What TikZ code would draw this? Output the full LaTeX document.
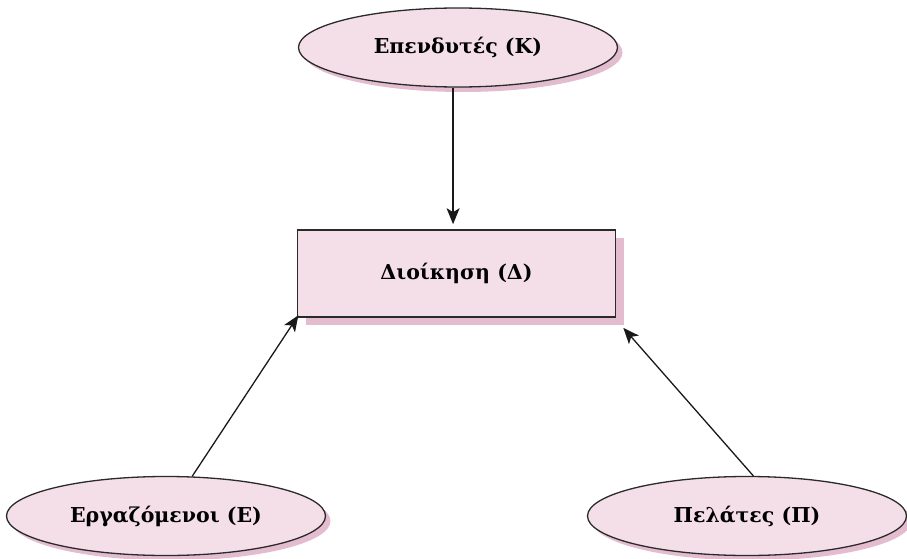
\documentclass[tikz,border=0pt]{standalone}
\usepackage{fontspec}
\setmainfont{DejaVu Serif}
\usetikzlibrary{shapes.geometric,shadows,arrows.meta,calc}
\definecolor{boxpink}{HTML}{F4DFE8}
\definecolor{shadowpink}{HTML}{E3BDCF}
\definecolor{edgegray}{HTML}{2A2A2A}
\tikzset{
  ellnode/.style={ellipse, draw=edgegray, line width=1.3pt, fill=boxpink,
    minimum width=319pt, minimum height=79pt, inner sep=0pt,
    font=\fontsize{20.5}{24}\selectfont\bfseries,
    general shadow={shadow xshift=5pt, shadow yshift=-5pt, fill=shadowpink}},
  boxnode/.style={rectangle, draw=edgegray, line width=1.6pt, fill=boxpink,
    minimum width=318pt, minimum height=87pt, inner sep=0pt,
    font=\fontsize{20.5}{24}\selectfont\bfseries,
    general shadow={shadow xshift=8pt, shadow yshift=-8pt, fill=shadowpink}},
  link/.style={line width=1.3pt, draw=black!90, -{Stealth[length=16pt,width=13pt,inset=4pt]}}
}
\begin{document}
\begin{tikzpicture}[x=1pt,y=-1pt]
\useasboundingbox (0,0) rectangle (907,559);
\node[ellnode] (k) at (458,47.5) {Επενδυτές (Κ)};
\node[boxnode] (d) at (456.5,273.5) {Διοίκηση (Δ)};
\node[ellnode] (e) at (166,516) {Εργαζόμενοι (Ε)};
\node[ellnode] (p) at (747,516) {Πελάτες (Π)};
\coordinate (dsh) at ($(d.south east)+(7,10)$);
\draw[link, shorten >=5pt] (k.263) -- (k.263 |- d.north);
\draw[link, shorten >=-3pt] (e) -- (d.south west);
\draw[link] (p.81) -- (dsh);
\end{tikzpicture}
\end{document}
